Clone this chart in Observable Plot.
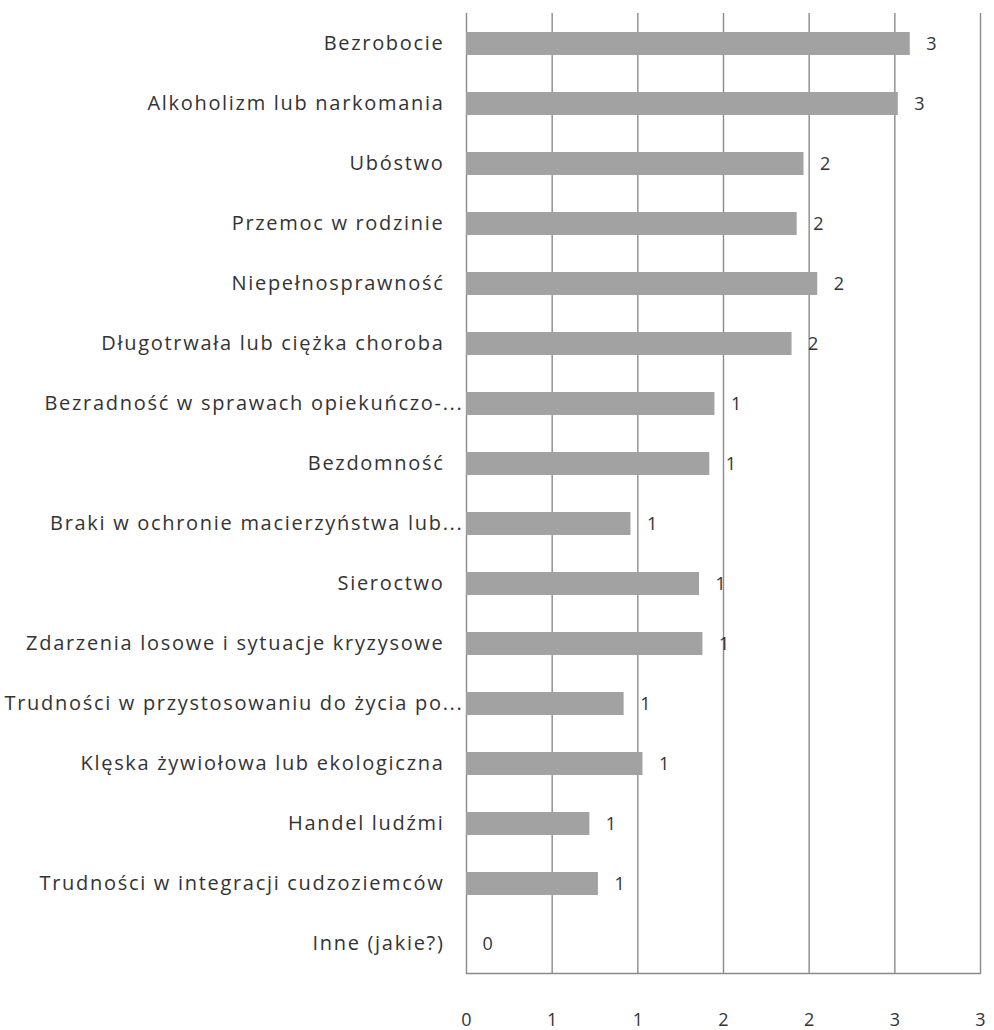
<!DOCTYPE html>
<html>
<head>
<meta charset="utf-8">
<script src="https://cdn.jsdelivr.net/npm/d3@7"></script>
<script src="https://cdn.jsdelivr.net/npm/@observablehq/plot@0.6"></script>
<style>
  html, body { margin: 0; padding: 0; background: #fff; }
  #chart svg { display: block; }
  #chart g[aria-label="y-axis tick label"] text { letter-spacing: 1.7px; }
</style>
</head>
<body>
<div id="chart"></div>
<script>
const categories = [
  "Bezrobocie",
  "Alkoholizm lub narkomania",
  "Ubóstwo",
  "Przemoc w rodzinie",
  "Niepełnosprawność",
  "Długotrwała lub ciężka choroba",
  "Bezradność w sprawach opiekuńczo-...",
  "Bezdomność",
  "Braki w ochronie macierzyństwa lub...",
  "Sieroctwo",
  "Zdarzenia losowe i sytuacje kryzysowe",
  "Trudności w przystosowaniu do życia po...",
  "Klęska żywiołowa lub ekologiczna",
  "Handel ludźmi",
  "Trudności w integracji cudzoziemców",
  "Inne (jakie?)"
];
const values = [2.59, 2.52, 1.97, 1.93, 2.05, 1.90, 1.45, 1.42, 0.96, 1.36, 1.38, 0.92, 1.03, 0.72, 0.77, 0];
const valueLabels = ["3", "3", "2", "2", "2", "2", "1", "1", "1", "1", "1", "1", "1", "1", "1", "0"];
const xTicks = [0, 0.5, 1, 1.5, 2, 2.5, 3];
const xTickLabels = ["0", "1", "1", "2", "2", "3", "3"];

const data = categories.map((c, i) => ({category: c, value: values[i], label: valueLabels[i]}));
const truncated = categories.filter(c => c.endsWith("..."));
const full = categories.filter(c => !c.endsWith("..."));

const font = "'Open Sans', sans-serif";

const chart = Plot.plot({
  width: 994,
  height: 1030,
  marginLeft: 466,
  marginRight: 14,
  marginTop: 13,
  marginBottom: 57,
  style: {fontFamily: font, fontSize: "18px", color: "#333", background: "#fff"},
  x: {domain: [0, 3], label: null},
  y: {domain: categories, paddingInner: 0.62, paddingOuter: 0.257, label: null},
  marks: [
    Plot.gridX(xTicks, {stroke: "#8a8a8a", strokeOpacity: 1, strokeWidth: 1.4}),
    Plot.frame({anchor: "bottom", stroke: "#8a8a8a", strokeWidth: 1.4}),
    Plot.barX(data, {x: "value", y: "category", fill: "#a2a2a2"}),
    Plot.text(data, {x: "value", y: "category", text: "label", textAnchor: "start", dx: 16, fill: "#333", fontSize: 18}),
    Plot.axisX(xTicks, {tickSize: 0, tickPadding: 40, tickFormat: (d, i) => xTickLabels[i], fontSize: 18, fill: "#333", label: null}),
    Plot.axisY(full, {tickSize: 0, tickPadding: 22, fontSize: 20, fill: "#333", label: null}),
    Plot.axisY(truncated, {tickSize: 0, tickPadding: 3, fontSize: 20, fill: "#333", label: null})
  ]
});
document.getElementById("chart").appendChild(chart);
</script>
</body>
</html>
